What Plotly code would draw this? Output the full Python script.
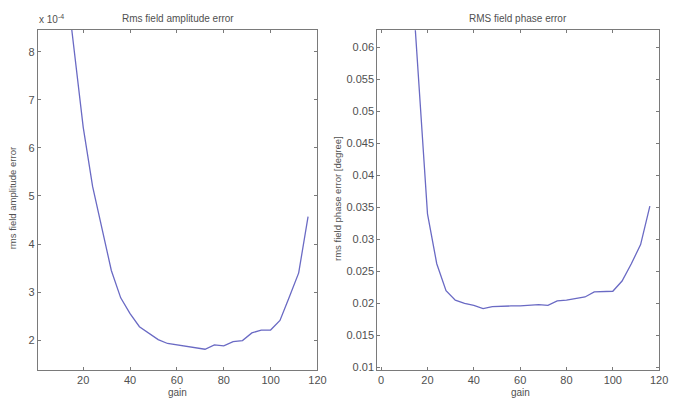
import plotly.graph_objects as go

# ---- data ----
gain = [12, 16, 20, 24, 28, 32, 36, 40, 44, 48, 52, 56, 60, 64, 68, 72, 76, 80,
        84, 88, 92, 96, 100, 104, 108, 112, 116]
amp_err = [9.75e-4, 8.09e-4, 6.43e-4, 5.20e-4, 4.30e-4, 3.45e-4, 2.88e-4, 2.55e-4,
           2.28e-4, 2.14e-4, 2.01e-4, 1.93e-4, 1.90e-4, 1.87e-4, 1.85e-4, 1.81e-4,
           1.90e-4, 1.88e-4, 1.97e-4, 1.99e-4, 2.15e-4, 2.21e-4, 2.21e-4, 2.41e-4,
           2.90e-4, 3.40e-4, 4.57e-4]
phase_err = [0.0778, 0.0554, 0.0340, 0.0262, 0.0220, 0.0205, 0.0200, 0.0197,
             0.0192, 0.0195, 0.0196, 0.0196, 0.0196, 0.0197, 0.0198, 0.0197,
             0.0204, 0.0205, 0.0207, 0.0210, 0.0218, 0.0218, 0.0219, 0.0235,
             0.0262, 0.0292, 0.0352]

x_ticks = [20, 40, 60, 80, 100, 120]
x_ticks2 = [0, 20, 40, 60, 80, 100, 120]
amp_ticks = [2e-4, 3e-4, 4e-4, 5e-4, 6e-4, 7e-4, 8e-4]
amp_tick_text = ["2", "3", "4", "5", "6", "7", "8"]
phase_ticks = [0.01, 0.015, 0.02, 0.025, 0.03, 0.035, 0.04, 0.045, 0.05, 0.055, 0.06]
phase_tick_text = ["0.01", "0.015", "0.02", "0.025", "0.03", "0.035", "0.04",
                   "0.045", "0.05", "0.055", "0.06"]

W, H = 678, 401
LINE = "#6a6ac4"
AX = "#7a7a7a"
TXT = "#505050"
FONT = "Liberation Sans"

def px_x(p):
    return p / W

def px_y(p):
    return 1 - p / H

fig = go.Figure()
fig.add_trace(go.Scatter(x=gain, y=amp_err, mode="lines",
                         line=dict(color=LINE, width=1.3), xaxis="x", yaxis="y",
                         showlegend=False))
fig.add_trace(go.Scatter(x=gain, y=phase_err, mode="lines",
                         line=dict(color=LINE, width=1.3), xaxis="x2", yaxis="y2",
                         showlegend=False))

axis_common = dict(showgrid=False, zeroline=False, showline=True, linecolor=AX,
                   linewidth=1, mirror="ticks", ticks="inside", ticklen=3,
                   tickcolor=AX, tickfont=dict(family=FONT, size=11, color=TXT))

fig.update_layout(
    width=W, height=H,
    margin=dict(l=0, r=0, t=0, b=0),
    paper_bgcolor="white", plot_bgcolor="white",
    xaxis=dict(domain=[px_x(38.3), px_x(321.7)], range=[0.6, 120],
               tickvals=x_ticks, anchor="y", **axis_common),
    yaxis=dict(domain=[px_y(372.7), px_y(30)], range=[1.38e-4, 8.46e-4],
               tickvals=amp_ticks, ticktext=amp_tick_text, anchor="x", **axis_common),
    xaxis2=dict(domain=[px_x(382.3), px_x(668)], range=[-1.7, 120],
                tickvals=x_ticks2, anchor="y2", **axis_common),
    yaxis2=dict(domain=[px_y(372.7), px_y(30.5)], range=[0.0096, 0.0627],
                tickvals=phase_ticks, ticktext=phase_tick_text, anchor="x2",
                **axis_common),
)

ann = []
def add_text(text, x, y, size=10, angle=0, xanchor="center"):
    ann.append(dict(text=text, x=px_x(x), y=px_y(y), xref="paper", yref="paper",
                    showarrow=False, textangle=angle, xanchor=xanchor, yanchor="middle",
                    font=dict(family=FONT, size=size, color=TXT)))

add_text("Rms field amplitude error", 180, 19, size=10)
add_text("RMS field phase error", 525, 19, size=10)
add_text("x 10<sup>-4</sup>", 37, 19, size=10, xanchor="left")
add_text("gain", 180, 395, size=10)
add_text("gain", 527, 395, size=10)
add_text("rms field amplitude error", 13, 200, size=9.5, angle=-90)
add_text("rms field phase error [degree]", 342, 200, size=9.5, angle=-90)
fig.update_layout(annotations=ann)

fig.write_html("out.html", config={"displayModeBar": False},
               post_script="document.body.style.margin='0';document.body.style.overflow='hidden';")
